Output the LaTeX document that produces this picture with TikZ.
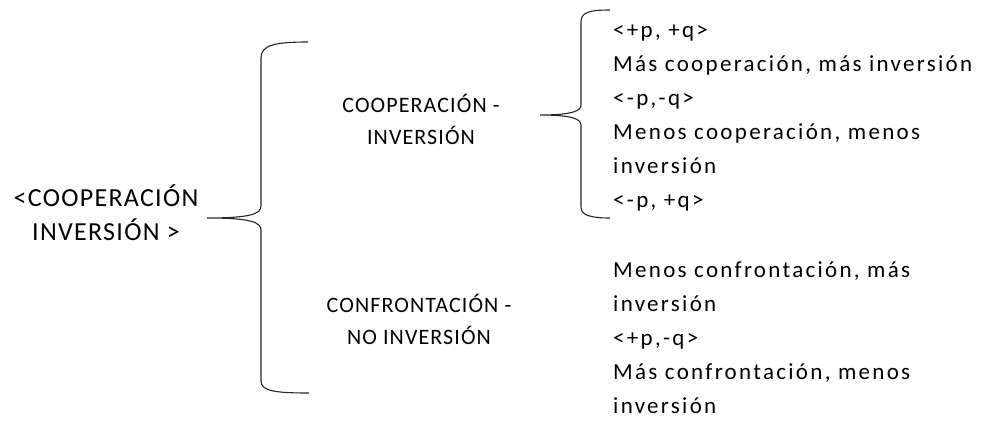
\documentclass[tikz,border=0pt]{standalone}
\usepackage{fontspec}
\setmainfont{Carlito}
\newfontfamily\trackedlow[LetterSpace=10]{Carlito}
\newfontfamily\trackedcap[LetterSpace=5]{Carlito}
\begin{document}
\begin{tikzpicture}[x=1pt,y=-1pt,
  brace/.style={draw=black!85,line width=1.1pt},
  bigtxt/.style={font=\trackedcap\fontsize{26}{34}\selectfont,align=center,inner sep=0pt},
  midtxt/.style={font=\trackedcap\fontsize{22}{32}\selectfont,align=center,inner sep=0pt},
  listtxt/.style={font=\trackedlow\fontsize{23}{34}\selectfont,align=left,inner sep=0pt,anchor=west}]
\useasboundingbox (0,0) rectangle (982,424);
% texts
\node[bigtxt] (root) at (106,213) {<COOPERACIÓN\\INVERSIÓN >};
\node[midtxt] (coop) at (421,119) {COOPERACIÓN -\\INVERSIÓN};
\node[midtxt] (conf) at (419,319) {CONFRONTACIÓN -\\NO INVERSIÓN};
\node[listtxt] (coopl) at (613,118) {<+p, +q>\\Más cooperación, más inversión\\<-p,-q>\\Menos cooperación, menos\\inversión\\<-p, +q>};
\node[listtxt] (confl) at (613,338) {Menos confrontación, más\\inversión\\<+p,-q>\\Más confrontación, menos\\inversión};
% big brace
\coordinate (bT) at (308,42);
\coordinate (bM) at (207,218);
\coordinate (bB) at (309,393);
\draw[brace] (bT) .. controls (275,42) and (261,45) .. (261,58) -- (261,206)
  .. controls (261,214) and (250,218) .. (bM)
  .. controls (250,218) and (261,222) .. (261,230) -- (261,381)
  .. controls (261,391) and (275,393) .. (bB);
% small brace
\coordinate (sT) at (610,10);
\coordinate (sM) at (540,115);
\coordinate (sB) at (610,218);
\draw[brace] (sT) .. controls (590,10) and (581,12) .. (581,22) -- (581,105)
  .. controls (581,111) and (572,115) .. (sM)
  .. controls (572,115) and (581,119) .. (581,125) -- (581,207)
  .. controls (581,215) and (590,218) .. (sB);
\end{tikzpicture}
\end{document}
